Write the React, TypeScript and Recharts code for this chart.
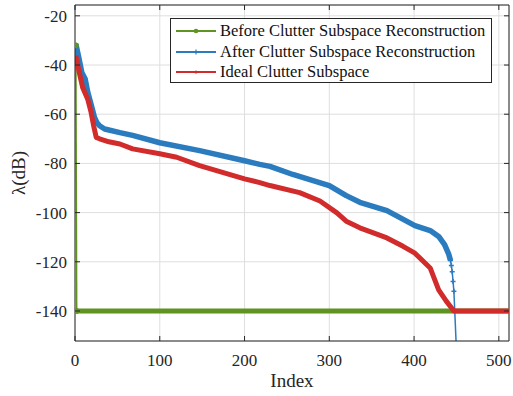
import { LineChart, Line, XAxis, YAxis, CartesianGrid, ReferenceLine, Legend } from 'recharts'

// values
const xTicks = [0, 100, 200, 300, 400, 500]
const yTicks = [-140, -120, -100, -80, -60, -40, -20]

const beforeIndex = [1, 2, 512]
const beforeValue = [-32, -140, -140]

const afterIndex = [1, 4, 8, 12, 15, 19, 23, 26, 29, 35, 53, 68, 100, 147, 200, 218, 230, 257, 300, 320, 336, 368, 401, 419, 429, 436, 441, 443, 444, 445, 446, 447, 450]
const afterValue = [-31.5, -36.2, -43, -45.7, -51, -56, -61.3, -63.5, -64.7, -66, -67.5, -68.6, -71.6, -74.8, -78.9, -80.4, -81.2, -84.5, -89, -93.1, -95.8, -99.2, -105.3, -107.3, -109.7, -113, -117, -119.5, -121.5, -124, -128, -132, -156]

const idealIndex = [1, 5, 9, 15, 19, 22, 25, 29, 40, 53, 68, 100, 120, 147, 167, 200, 218, 230, 265, 289, 309, 320, 336, 368, 387, 401, 419, 429, 438, 447, 512]
const idealValue = [-36.2, -43, -49.1, -53.9, -59.3, -64.7, -69.4, -70, -71.2, -72.1, -74.1, -76.1, -77.5, -80.9, -82.9, -86.3, -87.8, -89, -91.9, -95.3, -100.1, -103.5, -106.2, -110.3, -113.7, -116.5, -122.5, -131.4, -136, -140, -140]

const seriesNames = ['Before Clutter Subspace Reconstruction', 'After Clutter Subspace Reconstruction', 'Ideal Clutter Subspace']
const seriesColors = ['#5f9423', '#2a7cbf', '#d22b2b']

const X_MAX = 512
const Y_MIN = -152.2
const Y_MAX = -15.6

const W = 513
const H = 396
const MARGIN = { top: 5, right: 4, bottom: 0, left: 0 }
const Y_AXIS_W = 75
const X_AXIS_H = 55
const PLOT_TOP = MARGIN.top
const PLOT_RIGHT = W - MARGIN.right
const AXIS_COLOR = '#262626'
const FONT = "'Liberation Serif', 'Times New Roman', serif"

const toPoints = (idx: number[], vals: number[]) => idx.map((x, i) => ({ x, y: vals[i] }))

const before = toPoints(beforeIndex, beforeValue)
const after = toPoints(afterIndex, afterValue)
const ideal = toPoints(idealIndex, idealValue)

const tailStart = afterIndex.indexOf(443)
const afterBody = after.slice(0, tailStart + 1)
const afterTail = after.slice(tailStart)

function renderXTick(props: any) {
  const { x, y, payload, index } = props
  return (
    <g key={index}>
      <line x1={x} x2={x} y1={y} y2={y - 5} stroke={AXIS_COLOR} />
      <line x1={x} x2={x} y1={PLOT_TOP} y2={PLOT_TOP + 5} stroke={AXIS_COLOR} />
      <text x={x} y={y + 25} textAnchor="middle" fill={AXIS_COLOR} style={{ fontFamily: FONT, fontSize: 17 }}>
        {payload.value}
      </text>
    </g>
  )
}

function renderYTick(props: any) {
  const { x, y, payload, index } = props
  return (
    <g key={index}>
      <line x1={x} x2={x + 5} y1={y} y2={y} stroke={AXIS_COLOR} />
      <line x1={PLOT_RIGHT - 5} x2={PLOT_RIGHT} y1={y} y2={y} stroke={AXIS_COLOR} />
      <text x={x - 8} y={y} dy="0.35em" textAnchor="end" fill={AXIS_COLOR} style={{ fontFamily: FONT, fontSize: 17 }}>
        {payload.value}
      </text>
    </g>
  )
}

function circleDot(props: any) {
  const { cx, cy, index } = props
  return <circle key={index} cx={cx} cy={cy} r={2.5} fill={seriesColors[0]} stroke={seriesColors[0]} />
}

function plusDot(props: any) {
  const { cx, cy, index } = props
  return (
    <path
      key={index}
      d={`M${cx - 2.5},${cy}H${cx + 2.5}M${cx},${cy - 2.5}V${cy + 2.5}`}
      stroke={seriesColors[1]}
      strokeWidth={1.5}
    />
  )
}

function LegendMarker({ i }: { i: number }) {
  const c = seriesColors[i]
  return (
    <svg width={42} height={10} style={{ display: 'block' }}>
      <line x1={1} x2={41} y1={5} y2={5} stroke={c} strokeWidth={2} />
      {i === 0 && <circle cx={21} cy={5} r={2.3} fill={c} />}
      {i === 1 && <path d="M18.5,5H23.5M21,2.5V7.5" stroke={c} strokeWidth={1.2} />}
      {i === 2 && <circle cx={21} cy={5} r={1.6} fill={c} />}
    </svg>
  )
}

function renderLegend() {
  return (
    <div
      style={{
        boxSizing: 'border-box',
        width: 322,
        height: 65,
        border: `1.3px solid ${AXIS_COLOR}`,
        background: '#fff',
        padding: '2px 0 0 4px',
        fontFamily: FONT,
        fontSize: 16.5,
        color: '#111',
      }}
    >
      {seriesNames.map((name, i) => (
        <div key={name} style={{ display: 'flex', alignItems: 'center', height: 20.5, whiteSpace: 'nowrap' }}>
          <LegendMarker i={i} />
          <span style={{ marginLeft: 3, lineHeight: '20px' }}>{name}</span>
        </div>
      ))}
    </div>
  )
}

export default function App() {
  return (
    <div style={{ position: 'absolute', left: 0, top: 0, width: W, height: H, background: '#fff', fontFamily: FONT }}>
      <LineChart width={W} height={H} margin={MARGIN} style={{ fontFamily: FONT }}>
        <CartesianGrid stroke="#dedede" strokeWidth={1} />
        <XAxis
          type="number"
          dataKey="x"
          domain={[0, X_MAX]}
          ticks={xTicks}
          allowDataOverflow
          height={X_AXIS_H}
          tickSize={0}
          tickMargin={0}
          tickLine={false}
          tick={renderXTick}
          stroke={AXIS_COLOR}
          interval={0}
          label={{ value: 'Index', position: 'insideBottom', offset: 9, fill: AXIS_COLOR, fontSize: 19, fontFamily: FONT }}
        />
        <YAxis
          type="number"
          dataKey="y"
          domain={[Y_MIN, Y_MAX]}
          ticks={yTicks}
          allowDataOverflow
          width={Y_AXIS_W}
          tickSize={0}
          tickMargin={0}
          tickLine={false}
          tick={renderYTick}
          stroke={AXIS_COLOR}
          interval={0}
          label={{ value: 'λ(dB)', angle: -90, position: 'insideLeft', offset: 18, fill: AXIS_COLOR, fontSize: 19, fontFamily: FONT, style: { textAnchor: 'middle' } }}
        />
        <ReferenceLine y={Y_MAX} stroke={AXIS_COLOR} ifOverflow="visible" />
        <ReferenceLine x={X_MAX} stroke={AXIS_COLOR} ifOverflow="visible" />
        <Legend layout="vertical" align="center" verticalAlign="middle" content={renderLegend} wrapperStyle={{ left: 170, top: 18, width: 322 }} />

        <Line data={before.slice(0, 2)} dataKey="y" stroke={seriesColors[0]} strokeWidth={1.5} dot={circleDot} isAnimationActive={false} legendType="none" />
        <Line data={before.slice(1)} dataKey="y" stroke={seriesColors[0]} strokeWidth={5} dot={false} isAnimationActive={false} legendType="none" />
        <Line data={afterBody} dataKey="y" stroke={seriesColors[1]} strokeWidth={5.5} strokeLinejoin="round" dot={false} isAnimationActive={false} legendType="none" />
        <Line data={afterTail} dataKey="y" stroke={seriesColors[1]} strokeWidth={1.5} dot={plusDot} isAnimationActive={false} legendType="none" />
        <Line data={ideal} dataKey="y" stroke={seriesColors[2]} strokeWidth={5} strokeLinejoin="round" dot={false} isAnimationActive={false} legendType="none" />
      </LineChart>
    </div>
  )
}
